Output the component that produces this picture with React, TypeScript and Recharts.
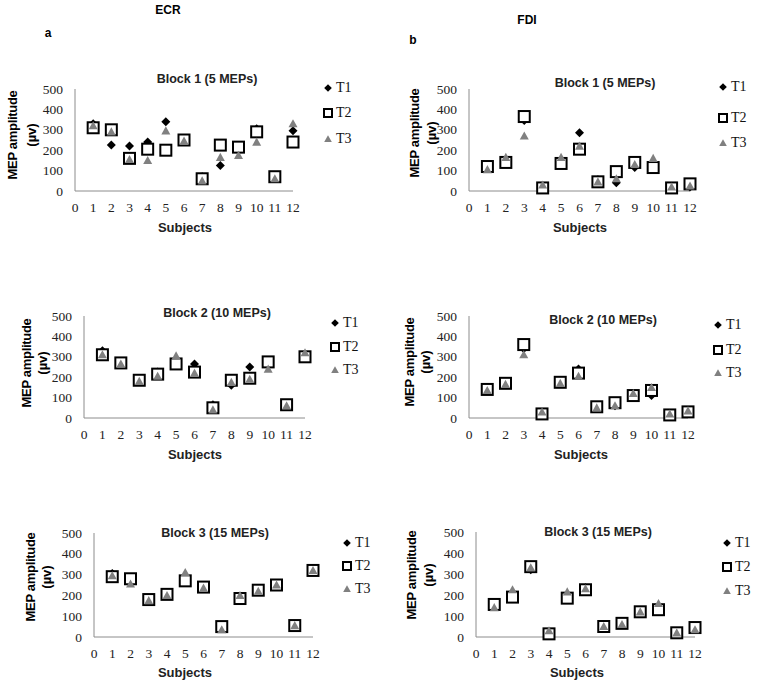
import { CSSProperties } from "react";
import { Scatter, ScatterChart, XAxis, YAxis } from "recharts";

// subjects on the x axis
const subjects = [1, 2, 3, 4, 5, 6, 7, 8, 9, 10, 11, 12];
const xTicks = [0, 1, 2, 3, 4, 5, 6, 7, 8, 9, 10, 11, 12];
const yTicks = [0, 100, 200, 300, 400, 500];
const seriesNames = ["T1", "T2", "T3"];

// ECR
const ecrB1T1 = [330, 225, 220, 240, 340, 245, 70, 125, 210, 305, 65, 295];
const ecrB1T2 = [310, 300, 160, 205, 200, 250, 60, 225, 215, 290, 70, 240];
const ecrB1T3 = [320, 290, 155, 150, 295, 245, 50, 165, 175, 240, 60, 330];

const ecrB2T1 = [330, 270, 190, 225, 270, 265, 65, 160, 250, 265, 60, 310];
const ecrB2T2 = [310, 270, 185, 215, 265, 225, 50, 185, 195, 275, 65, 300];
const ecrB2T3 = [310, 265, 180, 205, 305, 220, 40, 175, 190, 240, 60, 320];

const ecrB3T1 = [305, 275, 185, 210, 280, 245, 45, 190, 230, 255, 55, 325];
const ecrB3T2 = [290, 280, 180, 205, 270, 240, 50, 185, 225, 250, 55, 320];
const ecrB3T3 = [295, 255, 175, 200, 310, 235, 35, 200, 220, 250, 55, 320];

// FDI
const fdiB1T1 = [115, 135, 345, 20, 135, 285, 55, 40, 115, 130, 20, 20];
const fdiB1T2 = [120, 140, 365, 15, 135, 205, 45, 95, 140, 115, 15, 35];
const fdiB1T3 = [105, 165, 270, 30, 165, 220, 45, 60, 130, 160, 20, 25];

const fdiB2T1 = [140, 170, 340, 25, 175, 240, 55, 60, 115, 110, 20, 30];
const fdiB2T2 = [140, 170, 360, 20, 175, 220, 55, 75, 110, 135, 15, 30];
const fdiB2T3 = [135, 165, 310, 30, 170, 205, 50, 60, 120, 150, 20, 35];

const fdiB3T1 = [150, 190, 320, 20, 185, 235, 50, 60, 120, 130, 20, 40];
const fdiB3T2 = [155, 190, 335, 15, 185, 225, 50, 65, 120, 130, 20, 45];
const fdiB3T3 = [140, 225, 330, 30, 215, 230, 50, 60, 120, 160, 20, 35];

const TRI_COLOR = "#808080";
const AXIS_COLOR = "#8c8c8c";
const SANS = "Liberation Sans, Arial, sans-serif";
const SERIF = "Liberation Serif";

type PanelLayout = {
  title: string;
  x0: number;
  x12: number;
  yTop: number;
  yBot: number;
  titleX: number;
  titleY: number;
  legX: number;
  legY: number[];
  labX: number[];
  labY: number;
  subX: number;
  subY: number;
  series: number[][];
};

const panels: PanelLayout[] = [
  {
    title: "Block 1 (5 MEPs)",
    x0: 75, x12: 293, yTop: 89, yBot: 191,
    titleX: 207, titleY: 79, legX: 328, legY: [88, 113, 139],
    labX: [12, 31], labY: 135, subX: 185, subY: 227,
    series: [ecrB1T1, ecrB1T2, ecrB1T3],
  },
  {
    title: "Block 1 (5 MEPs)",
    x0: 469, x12: 690, yTop: 89, yBot: 191,
    titleX: 605, titleY: 83, legX: 723, legY: [87, 118, 143],
    labX: [414, 431], labY: 133, subX: 580, subY: 227,
    series: [fdiB1T1, fdiB1T2, fdiB1T3],
  },
  {
    title: "Block 2 (10 MEPs)",
    x0: 84, x12: 305, yTop: 316, yBot: 418,
    titleX: 217, titleY: 313, legX: 335, legY: [323, 347, 370],
    labX: [26, 42], labY: 363, subX: 195, subY: 454,
    series: [ecrB2T1, ecrB2T2, ecrB2T3],
  },
  {
    title: "Block 2 (10 MEPs)",
    x0: 469, x12: 688, yTop: 316, yBot: 418,
    titleX: 603, titleY: 320, legX: 718, legY: [325, 350, 373],
    labX: [409, 425], labY: 362, subX: 581, subY: 454,
    series: [fdiB2T1, fdiB2T2, fdiB2T3],
  },
  {
    title: "Block 3 (15 MEPs)",
    x0: 94, x12: 313, yTop: 533, yBot: 637,
    titleX: 215, titleY: 533, legX: 347, legY: [543, 566, 589],
    labX: [30, 46], labY: 577, subX: 185, subY: 672,
    series: [ecrB3T1, ecrB3T2, ecrB3T3],
  },
  {
    title: "Block 3 (15 MEPs)",
    x0: 476, x12: 695, yTop: 532, yBot: 637,
    titleX: 598, titleY: 532, legX: 727, legY: [543, 567, 591],
    labX: [411, 428], labY: 575, subX: 577, subY: 672,
    series: [fdiB3T1, fdiB3T2, fdiB3T3],
  },
];

const Diamond = ({ cx, cy, s = 4.5 }: any) => (
  <path d={`M${cx},${cy - s} L${cx + s},${cy} L${cx},${cy + s} L${cx - s},${cy} Z`} fill="#000" />
);
const Square = ({ cx, cy, s = 5.5 }: any) => (
  <rect x={cx - s} y={cy - s} width={s * 2} height={s * 2} fill="#fff" stroke="#000" strokeWidth={2} />
);
const Triangle = ({ cx, cy, s = 4.5 }: any) => (
  <path d={`M${cx},${cy - s} L${cx + s},${cy + s * 0.8} L${cx - s},${cy + s * 0.8} Z`} fill={TRI_COLOR} />
);
const shapes = [Diamond, Square, Triangle];

// serif tick labels, drawn like Excel's Times New Roman
const XTick = ({ x, y, payload }: any) => (
  <text x={x} y={y + 11} textAnchor="middle" fontFamily={SERIF} fontSize={13.5} fill="#222">
    {payload.value}
  </text>
);
const YTick = ({ x, y, payload }: any) => (
  <text x={x} y={y + 4.5} textAnchor="end" fontFamily={SERIF} fontSize={13.5} fill="#222">
    {payload.value}
  </text>
);

const centered = (x: number, y: number, extra: CSSProperties = {}): CSSProperties => ({
  position: "absolute",
  left: x,
  top: y,
  transform: "translate(-50%, -50%)",
  whiteSpace: "nowrap",
  lineHeight: 1,
  ...extra,
});

function Panel({ p }: { p: PanelLayout }) {
  const padL = 60;
  const padT = 20;
  const padR = 12;
  const padB = 30;
  const width = p.x12 - p.x0 + padL + padR;
  const height = p.yBot - p.yTop + padT + padB;

  return (
    <>
      <div style={{ position: "absolute", left: p.x0 - padL, top: p.yTop - padT }}>
        <ScatterChart width={width} height={height} margin={{ top: padT, right: padR, bottom: 0, left: 0 }}>
          <XAxis
            type="number"
            dataKey="x"
            domain={[0, 12]}
            ticks={xTicks}
            interval={0}
            height={padB}
            tickLine={false}
            tickMargin={4}
            axisLine={{ stroke: AXIS_COLOR }}
            tick={<XTick />}
          />
          <YAxis
            type="number"
            dataKey="y"
            domain={[0, 500]}
            ticks={yTicks}
            interval={0}
            width={padL}
            tickLine={false}
            tickMargin={6}
            axisLine={{ stroke: AXIS_COLOR }}
            tick={<YTick />}
          />
          {p.series.map((vals, si) => (
            <Scatter
              key={seriesNames[si]}
              name={seriesNames[si]}
              data={subjects.map((x, i) => ({ x, y: vals[i] }))}
              shape={shapes[si]}
              isAnimationActive={false}
            />
          ))}
        </ScatterChart>
      </div>

      <div style={centered(p.titleX, p.titleY, { fontFamily: SANS, fontWeight: 700, fontSize: 12.5, color: "#222" })}>
        {p.title}
      </div>

      <div style={centered(p.labX[0], p.labY, { fontFamily: SANS, fontWeight: 700, fontSize: 13, letterSpacing: -0.3, transform: "translate(-50%, -50%) rotate(-90deg)" })}>
        MEP amplitude
      </div>
      <div style={centered(p.labX[1], p.labY, { fontFamily: SANS, fontWeight: 700, fontSize: 13, transform: "translate(-50%, -50%) rotate(-90deg)" })}>
        (µv)
      </div>

      <div style={centered(p.subX, p.subY, { fontFamily: SANS, fontWeight: 700, fontSize: 13, color: "#222" })}>
        Subjects
      </div>

      {seriesNames.map((name, si) => {
        const Shape = shapes[si];
        return (
          <div key={name} style={{ position: "absolute", left: p.legX - 6, top: p.legY[si] - 8, display: "flex", alignItems: "center", height: 16 }}>
            <svg width={12} height={12}>
              <Shape cx={6} cy={6} s={si === 1 ? 4 : 3.8} />
            </svg>
            <span style={{ fontFamily: SERIF, fontSize: 14, marginLeft: 2, color: "#111" }}>{name}</span>
          </div>
        );
      })}
    </>
  );
}

export default function App() {
  return (
    <div style={{ position: "absolute", left: 0, top: 0, width: 757, height: 686, background: "#fff", overflow: "hidden" }}>
      <div style={centered(168, 10, { fontFamily: SANS, fontWeight: 700, fontSize: 12 })}>ECR</div>
      <div style={centered(527, 20, { fontFamily: SANS, fontWeight: 700, fontSize: 12 })}>FDI</div>
      <div style={centered(48, 33, { fontFamily: SANS, fontWeight: 700, fontSize: 12 })}>a</div>
      <div style={centered(413, 40, { fontFamily: SANS, fontWeight: 700, fontSize: 12 })}>b</div>
      {panels.map((p, i) => (
        <Panel key={i} p={p} />
      ))}
    </div>
  );
}
